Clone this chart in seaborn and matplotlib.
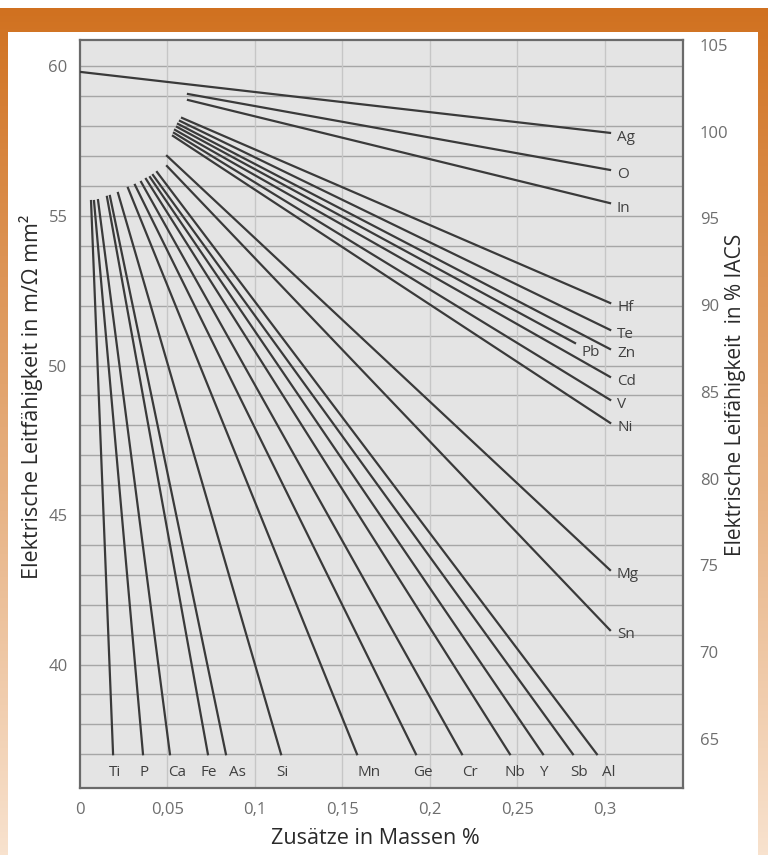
import numpy as np
import pandas as pd
import matplotlib
matplotlib.use("Agg")
import matplotlib.pyplot as plt
from matplotlib.patches import Rectangle
from matplotlib.ticker import FixedLocator
import seaborn as sns

# ---------------- data ----------------
elements = ["Ag", "O", "In", "Hf", "Te", "Zn", "Pb", "Cd", "V", "Ni", "Mg", "Sn",
            "Ti", "P", "Ca", "Fe", "As", "Si", "Mn", "Ge", "Cr", "Nb", "Y", "Sb", "Al"]
x_start = [0.0, 0.0617, 0.0617, 0.0583, 0.0571, 0.0560, 0.0554, 0.0543, 0.0537, 0.0531, 0.0497, 0.0497,
           0.0063, 0.0080, 0.0103, 0.0154, 0.0171, 0.0217, 0.0274, 0.0314, 0.0349, 0.0377, 0.0400, 0.0417, 0.0440]
y_start = [59.82, 59.08, 58.88, 58.28, 58.18, 58.08, 57.98, 57.88, 57.78, 57.68, 57.01, 56.67,
           55.50, 55.50, 55.53, 55.64, 55.67, 55.77, 55.94, 56.04, 56.14, 56.24, 56.30, 56.37, 56.47]
x_end = [0.3029, 0.3029, 0.3029, 0.3030, 0.3030, 0.3029, 0.2829, 0.3029, 0.3030, 0.3030, 0.3029, 0.3029,
         0.0189, 0.0360, 0.0514, 0.0731, 0.0834, 0.1149, 0.1583, 0.1920, 0.2183, 0.2457, 0.2646, 0.2817, 0.2954]
y_end = [57.78, 56.54, 55.43, 52.09, 51.19, 50.55, 50.75, 49.62, 48.85, 48.08, 43.16, 41.15,
         37.0, 37.0, 37.0, 37.0, 37.0, 37.0, 37.0, 37.0, 37.0, 37.0, 37.0, 37.0, 37.0]

x_ticks = [0.0, 0.05, 0.10, 0.15, 0.20, 0.25, 0.30]
x_ticklabels = ["0", "0,05", "0,1", "0,15", "0,2", "0,25", "0,3"]
y_ticks = [40, 45, 50, 55, 60]
iacs_ticks = [65, 70, 75, 80, 85, 90, 95, 100, 105]

# conversion MS/m -> % IACS as printed on the chart's right scale
IACS_FACTOR = 100 / 58
IACS_SHIFT = 0.31

# ---------------- layout / style ----------------
W, H = 768, 855
fig = plt.figure(figsize=(W / 100, H / 100), dpi=100, facecolor="white")

# background frame (orange gradient with white panel)
bg = fig.add_axes([0, 0, 1, 1], zorder=-10)
top_c = np.array([208, 112, 30]) / 255
bot_c = np.array([248, 226, 206]) / 255
t = np.linspace(0, 1, 256)[:, None]
grad = (top_c[None, :] * (1 - t) + bot_c[None, :] * t)[:, None, :]
bg.imshow(grad, extent=[0, 1, 0, 1], aspect="auto", origin="upper")
bg.add_patch(Rectangle((0, 1 - 8 / H), 1, 8 / H, color="white", lw=0))
bg.add_patch(Rectangle((8 / W, 0), 750 / W, (H - 32) / H, color="white", lw=0))
bg.set_xlim(0, 1)
bg.set_ylim(0, 1)
bg.axis("off")

ax = fig.add_axes([80 / W, 1 - 788 / H, 603 / W, 748 / H], zorder=1)
ax.set_facecolor("#E4E4E4")

rows = []
for i, el in enumerate(elements):
    rows.append({"element": el, "x": x_start[i], "y": y_start[i]})
    rows.append({"element": el, "x": x_end[i], "y": y_end[i]})
df = pd.DataFrame(rows)

sns.lineplot(data=df, x="x", y="y", units="element", estimator=None, sort=False,
             color="#3A3A3A", lw=1.6, ax=ax, legend=False, zorder=3)

ax.set_xlim(0, 0.3446)
ax.set_ylim(35.87, 60.886)

narrow = ["Open Sans", "DejaVu Sans"]
tick_col = "#6E6E6E"

ax.xaxis.set_major_locator(FixedLocator(x_ticks))
ax.set_xticklabels(x_ticklabels, family=narrow, fontsize=12, color=tick_col)
ax.yaxis.set_major_locator(FixedLocator(y_ticks))
ax.set_yticklabels([str(v) for v in y_ticks], family=narrow, fontsize=12, color=tick_col)
ax.tick_params(axis="both", which="both", length=0)
ax.tick_params(axis="x", pad=10)
ax.tick_params(axis="y", pad=9)

ax.grid(False)
for v in range(37, 61):
    ax.axhline(v, color="#A6A6A6", lw=1.0, zorder=1)
for v in x_ticks[1:]:
    ax.axvline(v, color="#C6C6C6", lw=1.0, zorder=1)

for s in ax.spines.values():
    s.set_color("#6A6A6A")
    s.set_linewidth(1.6)
ax.set_xlabel("")
ax.set_ylabel("")

sec = ax.secondary_yaxis("right", functions=(lambda v: v * IACS_FACTOR + IACS_SHIFT,
                                              lambda p: (p - IACS_SHIFT) / IACS_FACTOR))
sec.set_yticks(iacs_ticks)
sec.set_yticklabels([str(v) for v in iacs_ticks], family=narrow, fontsize=12, color=tick_col)
sec.tick_params(length=0, pad=12)
sec.spines["right"].set_visible(False)

# element labels
lab_col = "#404040"
for i, el in enumerate(elements[:12]):
    if el == "Pb":
        ax.annotate(el, (x_end[i], y_end[i]), xytext=(11, -6.5), textcoords="offset points",
                    ha="center", va="center", family=narrow, fontsize=11, color=lab_col)
    else:
        ax.annotate(el, (x_end[i], y_end[i]), xytext=(5, -3.5), textcoords="offset points",
                    ha="left", va="center", family=narrow, fontsize=11, color=lab_col)

bottom_dx = [2, 1, 7, 1, 11, 1, 12, 7, 8, 5, 0, 6, 12]
for j, el in enumerate(elements[12:]):
    i = j + 12
    ax.annotate(el, (x_end[i], 36.40), xytext=(bottom_dx[j] * 0.72, 0), textcoords="offset points",
                ha="center", va="center", family=narrow, fontsize=11, color=lab_col)

lab_font = ["Open Sans", "DejaVu Sans"]
fig.text(31 / W, 1 - 397 / H, "Elektrische Leitfähigkeit in m/Ω mm²", rotation=90,
         ha="center", va="center", family=lab_font, fontsize=15.5, color="#2A2A2A")
fig.text(735 / W, 1 - 395 / H, "Elektrische Leifähigkeit  in % IACS", rotation=90,
         ha="center", va="center", family=lab_font, fontsize=15, color="#2A2A2A")
fig.text(375 / W, 1 - 838 / H, "Zusätze in Massen %", ha="center", va="center",
         family=lab_font, fontsize=15.5, color="#2A2A2A")

fig.savefig("out.png", dpi=100, facecolor="white")
